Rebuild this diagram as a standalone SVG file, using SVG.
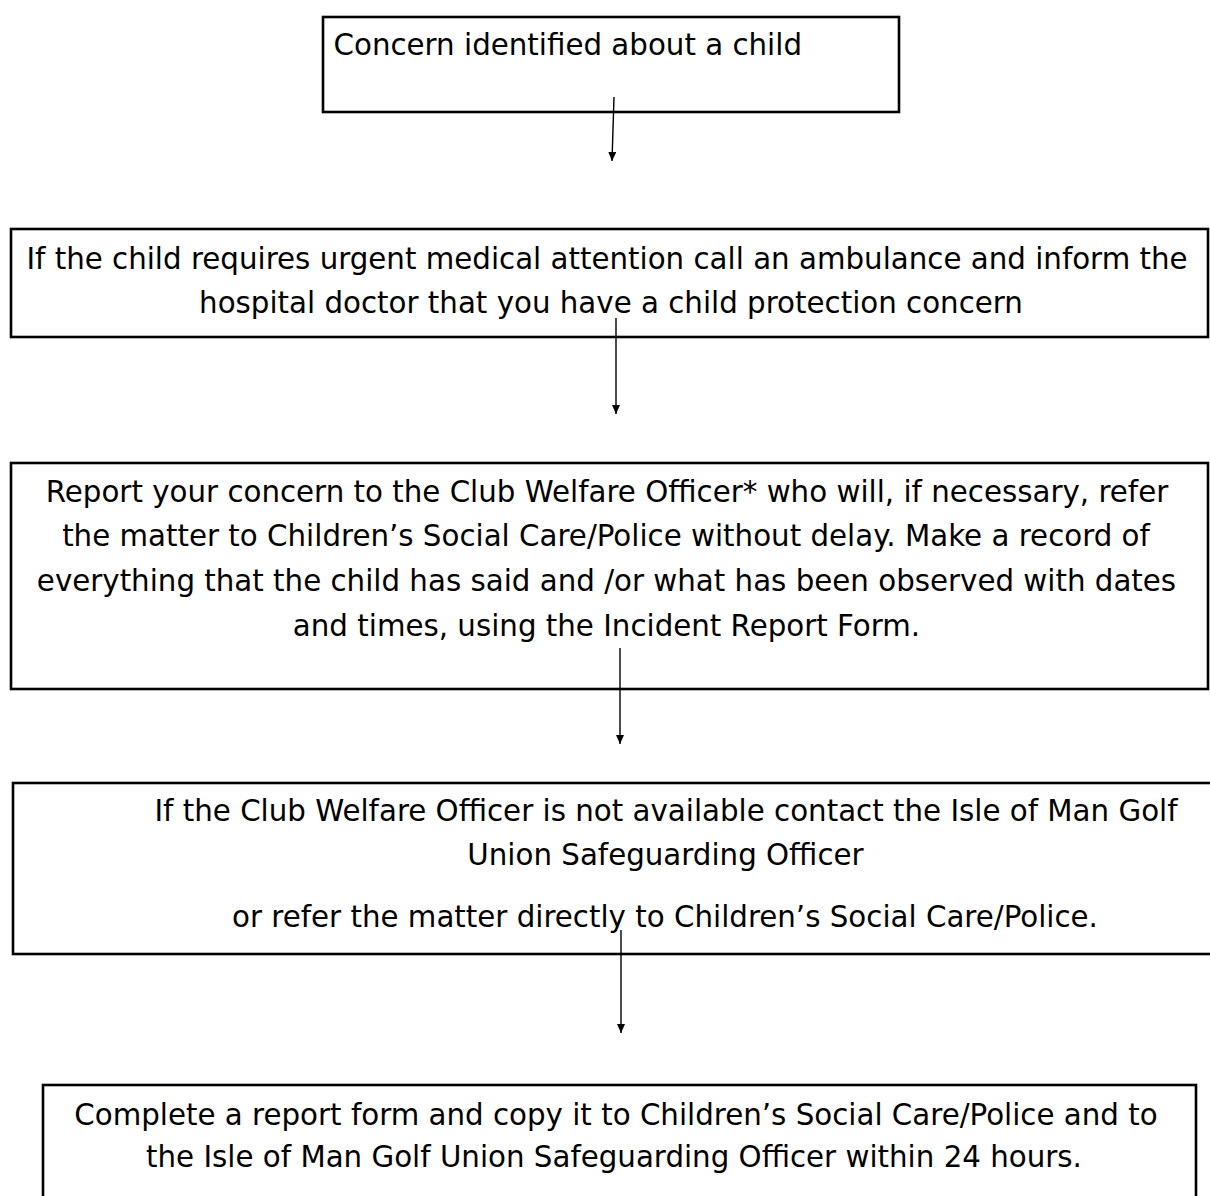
<svg xmlns="http://www.w3.org/2000/svg" width="1210" height="1196" viewBox="0 0 1210 1196">
<style>
.box{fill:#fff;stroke:#000;stroke-width:2.6}
.t{font-family:"DejaVu Sans",Verdana,sans-serif;font-size:29.3px;fill:#000}
.m{text-anchor:middle}
.c{stroke:#000;stroke-width:1.4;fill:none}
</style>
<defs>
<marker id="a" markerWidth="9" markerHeight="8" refX="9" refY="4" orient="auto" markerUnits="userSpaceOnUse" viewBox="0 0 9 8">
<path d="M0,0 L9,4 L0,8 z" fill="#000"/>
</marker>
</defs>
<g id="n1">
<rect class="box" x="323" y="17" width="576" height="95"/>
<text class="t" x="333.5" y="55">Concern identified about a child</text>
</g>
<g id="n2">
<rect class="box" x="11" y="229" width="1197" height="108"/>
<text class="t m" x="607" y="269">If the child requires urgent medical attention call an ambulance and inform the</text>
<text class="t m" x="611" y="313">hospital doctor that you have a child protection concern</text>
</g>
<g id="n3">
<rect class="box" x="11" y="463" width="1197" height="226"/>
<text class="t m" x="607" y="502">Report your concern to the Club Welfare Officer* who will, if necessary, refer</text>
<text class="t m" x="606" y="546">the matter to Children’s Social Care/Police without delay. Make a record of</text>
<text class="t m" x="606.5" y="591">everything that the child has said and /or what has been observed with dates</text>
<text class="t m" x="606.5" y="636">and times, using the Incident Report Form.</text>
</g>
<g id="n4">
<rect class="box" x="13" y="783" width="1202" height="171"/>
<text class="t m" x="666" y="821">If the Club Welfare Officer is not available contact the Isle of Man Golf</text>
<text class="t m" x="665.5" y="865">Union Safeguarding Officer</text>
<text class="t m" x="665" y="927">or refer the matter directly to Children’s Social Care/Police.</text>
</g>
<g id="n5">
<rect class="box" x="43" y="1085" width="1153" height="130"/>
<text class="t m" x="616" y="1125">Complete a report form and copy it to Children’s Social Care/Police and to</text>
<text class="t m" x="614" y="1167">the Isle of Man Golf Union Safeguarding Officer within 24 hours.</text>
</g>
<g id="connectors">
<line class="c" x1="614" y1="97" x2="612" y2="161" marker-end="url(#a)"/>
<line class="c" x1="616" y1="318" x2="616" y2="414" marker-end="url(#a)"/>
<line class="c" x1="620" y1="648" x2="620" y2="744" marker-end="url(#a)"/>
<line class="c" x1="621" y1="930" x2="621" y2="1033" marker-end="url(#a)"/>
</g>
</svg>
